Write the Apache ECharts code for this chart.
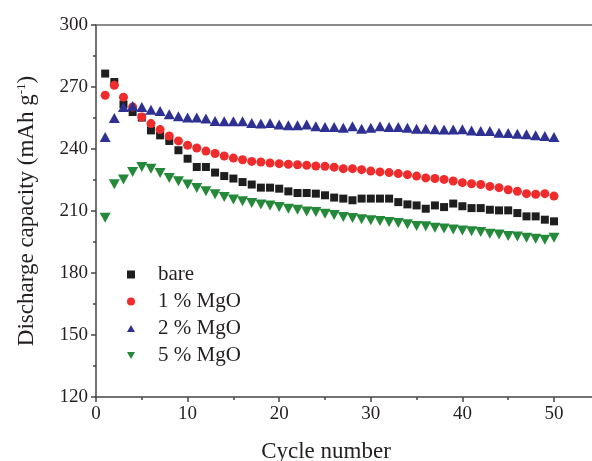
<!DOCTYPE html>
<html><head><meta charset="utf-8">
<script src="https://cdn.jsdelivr.net/npm/echarts@6/dist/echarts.min.js"></script>
<style>html,body{margin:0;padding:0;background:#fff}#c{width:592px;height:461px}</style>
</head><body><div id="c"></div>
<script>
const cycles = Array.from({length: 50}, (_, i) => i + 1);
const bare = [276.5,272.4,261.6,257.9,255.2,249,246.6,243.9,239.4,235.3,231.3,231.3,228.6,226.9,225.7,224,222.8,221.3,221.3,220.8,219.5,218.7,218.7,218.4,217.6,216.5,216,215.2,216,216,216,216,214.3,213.2,212.7,211.1,212.7,211.9,213.6,212.3,211.4,211.4,210.6,210.3,210.3,209,207.4,207.4,205.8,205];
const mgo1 = [266,270.8,265.1,260.3,255.5,252.3,249.4,246.3,243.9,241.8,240.5,239,237.8,236.6,235.6,234.8,234,233.7,233.2,232.9,232.6,232.4,232.1,231.8,231.6,231.2,230.5,230.5,230,229.3,228.9,228.6,228.1,227.6,226.9,226,225.7,225.3,224.5,223.7,223.2,222.8,221.9,221.3,220.3,219.5,218.4,218.1,218.4,217.2];
const mgo2 = [245.8,255,260.3,260.8,260.3,259,258.4,256.8,255.8,255.2,255.2,254.7,253.5,253.4,253.4,253.4,252.6,252.3,252.6,251.8,251.5,251.5,251.8,251,250.6,250.6,250.3,251,249.8,250.3,251,250.6,250.6,250.3,249.8,249.8,249.5,249.4,249.4,249.5,249,248.7,248.7,247.9,247.7,247.4,247.1,246.6,246.3,245.8];
const mgo5 = [206.7,222.9,225.2,228.9,231.3,230.5,228.4,226,224.4,222.8,221.1,219.5,218.1,216.8,215.6,214.7,213.9,213.2,212.7,211.9,211.1,210.6,209.8,209.5,208.7,208.1,207.1,206.6,206,205.5,205.2,204.7,204.2,203.6,202.7,202.6,201.9,201.5,201,200.6,200.2,199.8,199,198.6,197.9,197.7,197.1,196.6,196.1,197.1];
const xTicks = [0,10,20,30,40,50];
const xMinorTicks = [5,15,25,35,45];
const seriesNames = ['bare','1 % MgO','2 % MgO','5 % MgO'];

const font = 'Liberation Serif';
const axisColor = '#444';
const textColor = '#231f20';
const downTri = 'path://M0,0L20,0L10,18Z';
const upTri = 'path://M10,0L20,18L0,18Z';
const pair = arr => arr.map((v, i) => [cycles[i], v]);

const chart = echarts.init(document.getElementById('c'), null, {renderer: 'canvas'});
chart.setOption({
  animation: false,
  backgroundColor: '#fff',
  grid: {left: 96, right: 0, top: 25, bottom: 64, containLabel: false, outerBoundsMode: 'none'},
  legend: {
    orient: 'vertical', left: 122, top: 259, itemGap: 6, padding: 5,
    itemWidth: 8, itemHeight: 8,
    data: [
      {name: seriesNames[0], icon: 'rect'},
      {name: seriesNames[1], icon: 'circle'},
      {name: seriesNames[2], icon: upTri},
      {name: seriesNames[3], icon: downTri}
    ],
    textStyle: {fontFamily: font, fontSize: 21, color: textColor, padding: [0,0,0,18], lineHeight: 20}
  },
  xAxis: [{
    type: 'value', min: 0, max: 54.15, interval: 10, position: 'bottom',
    name: 'Cycle number', nameLocation: 'middle', nameGap: 43,
    nameTextStyle: {fontFamily: font, fontSize: 23, color: textColor, padding: [0,36,0,0]},
    axisLine: {show: true, lineStyle: {color: axisColor, width: 1.5}},
    axisTick: {show: true, inside: false, length: 5, customValues: xTicks, lineStyle: {color: axisColor, width: 1.5}},
    axisLabel: {customValues: xTicks, fontFamily: font, fontSize: 19, color: textColor, margin: 8},
    splitLine: {show: false}
  }, {
    type: 'value', min: 0, max: 54.15, position: 'bottom',
    axisLine: {show: false},
    axisTick: {show: true, inside: false, length: 3, customValues: xMinorTicks, lineStyle: {color: axisColor, width: 1.5}},
    axisLabel: {show: false, customValues: xMinorTicks},
    splitLine: {show: false}
  }, {
    type: 'value', min: 0, max: 54.15, position: 'top',
    axisLine: {show: true, lineStyle: {color: '#666', width: 1.5}},
    axisTick: {show: false}, axisLabel: {show: false}, splitLine: {show: false}
  }],
  yAxis: {
    type: 'value', min: 120, max: 300, interval: 30,
    name: 'Discharge capacity (mAh g{sup|-1})', nameLocation: 'middle', nameGap: 57, nameRotate: 90,
    nameTextStyle: {fontFamily: font, fontSize: 23, color: textColor,
      rich: {sup: {fontFamily: font, fontSize: 13, color: textColor, verticalAlign: 'top', padding: [0,0,11,0]}}},
    axisLine: {show: true, lineStyle: {color: axisColor, width: 1.5}},
    axisTick: {show: true, inside: false, length: 5, lineStyle: {color: axisColor, width: 1.5}},
    minorTick: {show: true, splitNumber: 2, length: 3, lineStyle: {color: axisColor, width: 1.5}},
    axisLabel: {fontFamily: font, fontSize: 19, color: textColor, margin: 8},
    splitLine: {show: false}
  },
  series: [
    {name: seriesNames[0], type: 'scatter', symbol: 'rect', symbolSize: 8, data: pair(bare), itemStyle: {color: '#1e1e1e', opacity: 1}},
    {name: seriesNames[1], type: 'scatter', symbol: 'circle', symbolSize: 9, data: pair(mgo1), itemStyle: {color: '#f02b2b', opacity: 1}},
    {name: seriesNames[2], type: 'scatter', symbol: upTri, symbolSize: [11, 10], data: pair(mgo2), itemStyle: {color: '#2e3192', opacity: 1}},
    {name: seriesNames[3], type: 'scatter', symbol: downTri, symbolSize: [11, 10], data: pair(mgo5), itemStyle: {color: '#25893a', opacity: 1}}
  ]
});
</script></body></html>
